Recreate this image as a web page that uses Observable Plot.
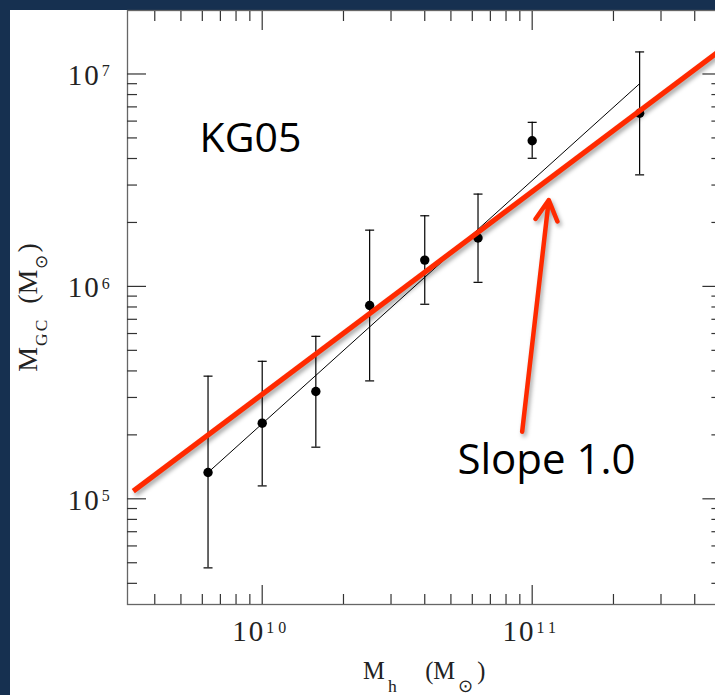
<!DOCTYPE html>
<html>
<head>
<meta charset="utf-8">
<script src="https://cdn.jsdelivr.net/npm/d3@7"></script>
<script src="https://cdn.jsdelivr.net/npm/@observablehq/plot@0.6"></script>
<style>
  html, body { margin: 0; padding: 0; }
  body {
    width: 715px; height: 695px; overflow: hidden; position: relative;
    background: #163050;
  }
  #panel { position: absolute; left: 10px; top: 10px; width: 705px; height: 685px; background: #fff; }
  #chart { position: absolute; left: 0; top: 0; }
</style>
</head>
<body>
<div id="panel"></div>
<div id="chart"></div>
<script>
// Halo mass bins (M_sun) and total globular-cluster system mass (M_sun) with error bars
const haloMass   = [6.3e9, 1.0e10, 1.58e10, 2.5e10, 4.0e10, 6.3e10, 1.0e11, 2.5e11];
const gcMass     = [1.33e5, 2.27e5, 3.20e5, 8.13e5, 1.33e6, 1.69e6, 4.85e6, 6.53e6];
const gcMassLow  = [4.73e4, 1.15e5, 1.75e5, 3.59e5, 8.24e5, 1.045e6, 4.01e6, 3.35e6];
const gcMassHigh = [3.78e5, 4.44e5, 5.82e5, 1.84e6, 2.15e6, 2.72e6, 5.92e6, 1.27e7];

// Thin black fit through the bins
const fitX = [6.3e9, 2.5e11];
const fitY = [1.33e5, 9.0e6];

// Red reference line ("Slope 1.0") and its pointer arrow
const slopeX = [3.33e9, 5.0e11];
const slopeY = [1.086e5, 1.30e7];
const arrowX = [9.18e10, 1.152e11];
const arrowY = [2.07e5, 2.55e6];

// Annotation texts and their anchor points
const notes = [
  {text: "KG05", x: 9.05e9, y: 4.30e6, size: 41},
  {text: "Slope 1.0", x: 1.13e11, y: 1.315e5, size: 42}
];

// Axis ticks and labels
const xMajor = [1e10, 1e11];
const xMinor = [4e9, 5e9, 6e9, 7e9, 8e9, 9e9,
                2e10, 3e10, 4e10, 5e10, 6e10, 7e10, 8e10, 9e10,
                2e11, 3e11, 4e11];
const yMajor = [1e5, 1e6, 1e7];
const yMinor = [4e4, 5e4, 6e4, 7e4, 8e4, 9e4,
                2e5, 3e5, 4e5, 5e5, 6e5, 7e5, 8e5, 9e5,
                2e6, 3e6, 4e6, 5e6, 6e6, 7e6, 8e6, 9e6];
const xLabel = "M_{h}\u2003(M_{\u2299})";
const yLabel = "M_{GC}\u2002(M_{\u2299})";

const bins = haloMass.map((x, i) => ({x, y: gcMass[i], lo: gcMassLow[i], hi: gcMassHigh[i]}));
const fitLine = fitX.map((x, i) => ({x, y: fitY[i]}));
const slopeLine = slopeX.map((x, i) => ({x, y: slopeY[i]}));
const arrow = [{x1: arrowX[0], y1: arrowY[0], x2: arrowX[1], y2: arrowY[1]}];

const RED = "#ff2a00";
const powerLabel = d => `10^{${Math.round(Math.log10(d))}}`;

// Horizontal bar used as the error-bar cap
const capSymbol = {
  draw(context, size) {
    const r = Math.sqrt(size / Math.PI);
    context.moveTo(-r, 0);
    context.lineTo(r, 0);
  }
};

const tickStyle = {fill: "none", stroke: "#333", strokeWidth: 1.2};

const svg = Plot.plot({
  width: 730,
  height: 695,
  marginLeft: 127,
  marginRight: 9.6,
  marginTop: 10,
  marginBottom: 91,
  x: {type: "log", domain: [3.17e9, 5e11]},
  y: {type: "log", domain: [3.18e4, 1.99e7]},
  style: {
    background: "transparent",
    maxWidth: "none",
    fontFamily: "'Liberation Serif', serif",
    color: "#000"
  },
  marks: [
    Plot.frame({stroke: "#666", strokeWidth: 1.3}),
    // inward ticks on all four sides
    Plot.axisY(yMajor, {anchor: "left", tickSize: -19, ...tickStyle}),
    Plot.axisY(yMinor, {anchor: "left", tickSize: -10, ...tickStyle}),
    Plot.axisY(yMajor, {anchor: "right", tickSize: -19, ...tickStyle}),
    Plot.axisY(yMinor, {anchor: "right", tickSize: -10, ...tickStyle}),
    Plot.axisX(xMajor, {anchor: "bottom", tickSize: -19, ...tickStyle}),
    Plot.axisX(xMinor, {anchor: "bottom", tickSize: -10, ...tickStyle}),
    Plot.axisX(xMajor, {anchor: "top", tickSize: -19, ...tickStyle}),
    Plot.axisX(xMinor, {anchor: "top", tickSize: -10, ...tickStyle}),
    // decade labels
    Plot.axisY(yMajor, {anchor: "left", tickSize: 0, tickPadding: 13.7, dy: 1.7,
      tickFormat: powerLabel, fontSize: 29, label: null, fill: "#222"}),
    Plot.axisX(xMajor, {anchor: "bottom", tickSize: 0, tickPadding: 16.4, dx: -1,
      tickFormat: powerLabel, fontSize: 29, label: null, fill: "#222"}),
    // axis titles
    Plot.text([xLabel], {frameAnchor: "bottom", dy: 74.5, lineAnchor: "bottom",
      textAnchor: "middle", fontSize: 24.5, fill: "#222"}),
    Plot.text([yLabel], {frameAnchor: "left", dx: -91, rotate: -90, lineAnchor: "bottom",
      textAnchor: "middle", fontSize: 28, fill: "#222"}),
    // error bars, caps and points
    Plot.ruleX(bins, {x: "x", y1: "lo", y2: "hi", stroke: "#000", strokeWidth: 1.2}),
    Plot.dot(bins, {x: "x", y: "lo", symbol: capSymbol, r: 4.5, fill: "none", stroke: "#000", strokeWidth: 1.2}),
    Plot.dot(bins, {x: "x", y: "hi", symbol: capSymbol, r: 4.5, fill: "none", stroke: "#000", strokeWidth: 1.2}),
    Plot.dot(bins, {x: "x", y: "y", r: 4.7, fill: "#000", stroke: "none"}),
    Plot.line(fitLine, {x: "x", y: "y", stroke: "#000", strokeWidth: 1}),
    // annotations
    Plot.text(notes, {x: "x", y: "y", text: "text", fontSize: d => d.size, textAnchor: "middle",
      lineAnchor: "bottom", fontFamily: "'Open Sans', sans-serif", fill: "#000"}),
    Plot.line(slopeLine, {x: "x", y: "y", stroke: RED, strokeWidth: 5.2, strokeLinecap: "butt"}),
    Plot.arrow(arrow, {x1: "x1", y1: "y1", x2: "x2", y2: "y2", stroke: RED, strokeWidth: 4.5,
      headLength: 7.7, headAngle: 57, strokeLinejoin: "round", strokeLinecap: "round"})
  ]
});

document.getElementById("chart").appendChild(svg);

// Turn "_{..}" / "^{..}" markup into subscript / superscript tspans
const SVGNS = "http://www.w3.org/2000/svg";
function richText(el, o) {
  const s = el.textContent;
  if (!/[_^]\{/.test(s)) return;
  const fs = parseFloat(getComputedStyle(el).fontSize);
  el.textContent = "";
  let shift = 0;
  for (const m of s.matchAll(/([_^])\{([^}]*)\}|([^_^]+)/g)) {
    const t = document.createElementNS(SVGNS, "tspan");
    if (m[3] !== undefined) {
      t.textContent = m[3];
      if (shift) t.setAttribute("dy", -shift);
      if (o.mainSpacing) t.setAttribute("letter-spacing", o.mainSpacing);
      shift = 0;
    } else {
      const sup = m[1] === "^";
      const target = sup ? -o.supRaise * fs : o.subDrop * fs;
      t.textContent = m[2];
      t.setAttribute("font-size", (sup ? o.supSize : o.subSize) * fs);
      if (o.scriptSpacing) t.setAttribute("letter-spacing", o.scriptSpacing);
      if (o.scriptDx) t.setAttribute("dx", o.scriptDx);
      t.setAttribute("dy", target - shift);
      shift = target;
    }
    el.appendChild(t);
  }
}
const tickOpts = {supSize: 0.55, supRaise: 0.30, mainSpacing: 2, scriptSpacing: 4, scriptDx: 1};
const xLabelOpts = {subSize: 0.72, subDrop: 0.55, scriptSpacing: 4, scriptDx: 3};
const yLabelOpts = {subSize: 0.62, subDrop: 0.38, scriptSpacing: 2, scriptDx: 1};
svg.querySelectorAll("text").forEach(el => {
  const s = el.textContent;
  richText(el, s === xLabel ? xLabelOpts : s === yLabel ? yLabelOpts : tickOpts);
});

// soft shadow under the red annotation strokes
svg.querySelectorAll(`[stroke="${RED}"]`).forEach(g => {
  g.style.filter = "drop-shadow(2px 3px 2px rgba(0,0,0,0.35))";
});
</script>
</body>
</html>
